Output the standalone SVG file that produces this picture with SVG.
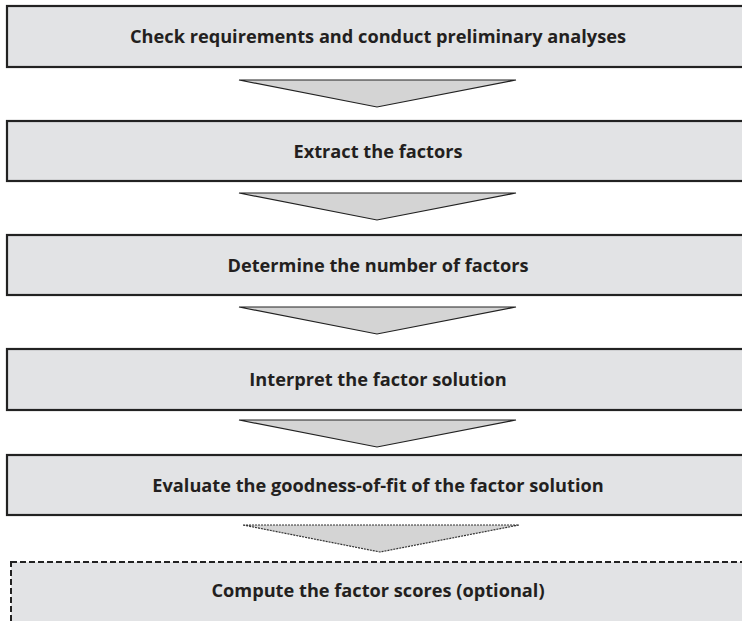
<svg xmlns="http://www.w3.org/2000/svg" width="742" height="621" viewBox="0 0 742 621">
<style>
.box{fill:#e2e3e5;stroke:#222;stroke-width:2.2}
.dbox{fill:#e2e3e5;stroke:#222;stroke-width:2;stroke-dasharray:6 3}
.arr{fill:#d4d4d4;stroke:#222;stroke-width:1.2;stroke-linejoin:miter}
.darr{fill:#d4d4d4;stroke:#333;stroke-width:1.2;stroke-dasharray:2 1}
.t{font-family:"Open Sans","Noto Sans","Liberation Sans",sans-serif;font-weight:700;font-size:18.2px;fill:#231f20;text-anchor:middle}
</style>
<rect width="742" height="621" fill="#fff"/>
<g id="n1"><rect class="box" x="7" y="6" width="800" height="61"/><text class="t" x="378" y="43">Check requirements and conduct preliminary analyses</text></g>
<g id="n2"><rect class="box" x="7" y="121" width="800" height="60"/><text class="t" x="378" y="158">Extract the factors</text></g>
<g id="n3"><rect class="box" x="7" y="235" width="800" height="60"/><text class="t" x="378" y="272">Determine the number of factors</text></g>
<g id="n4"><rect class="box" x="7" y="349" width="800" height="61"/><text class="t" x="378" y="386">Interpret the factor solution</text></g>
<g id="n5"><rect class="box" x="7" y="455" width="800" height="60"/><text class="t" x="378" y="492">Evaluate the goodness-of-fit of the factor solution</text></g>
<g id="n6"><rect class="dbox" x="11" y="562" width="800" height="80"/><text class="t" x="378" y="597">Compute the factor scores (optional)</text></g>
<g id="connectors">
<polygon class="arr" points="239,80 516,80 377,107"/>
<polygon class="arr" points="239,193 516,193 377,220"/>
<polygon class="arr" points="239,307 516,307 377,334"/>
<polygon class="arr" points="239,420 516,420 377,447"/>
<polygon class="darr" points="243,525 519,525 380,552"/>
</g>
</svg>
